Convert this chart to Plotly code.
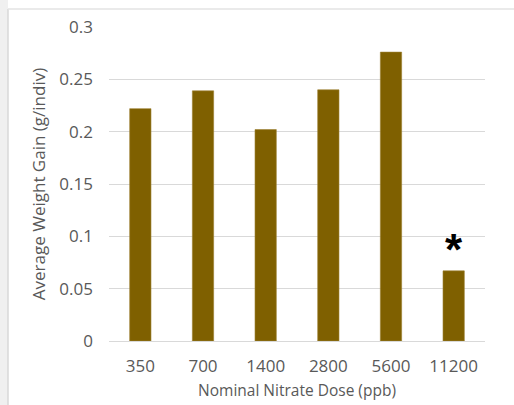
import plotly.graph_objects as go

doses = ["350", "700", "1400", "2800", "5600", "11200"]
weight_gain = [0.222, 0.239, 0.202, 0.240, 0.276, 0.067]
y_ticks = [0, 0.05, 0.1, 0.15, 0.2, 0.25, 0.3]
y_tick_labels = ["0", "0.05", "0.1", "0.15", "0.2", "0.25", "0.3"]
sig_dose = "11200"
sig_mark_y = 0.083

FONT = "Open Sans, Lato, sans-serif"
TXT = "#595959"

fig = go.Figure()
fig.add_trace(go.Bar(
    x=doses, y=weight_gain,
    marker=dict(color="#7F6000", line=dict(color="#9c8030", width=0.6)),
    width=0.34,
))

fig.add_trace(go.Scatter(
    x=[sig_dose], y=[sig_mark_y], mode="text", text=["<b>*</b>"],
    textfont=dict(family="Liberation Sans, Arial", size=44, color="#000000"),
    textposition="middle center", hoverinfo="skip",
))

fig.update_layout(
    width=514, height=405,
    margin=dict(l=109, r=29, t=27, b=64),
    paper_bgcolor="white", plot_bgcolor="white",
    showlegend=False,
    font=dict(family=FONT, size=16, color=TXT),
    xaxis=dict(
        type="category", categoryorder="array", categoryarray=doses,
        range=[-0.5, len(doses) - 0.5], automargin=False,
        showgrid=False, showline=False, ticks="",
        tickfont=dict(size=17, color=TXT), ticklabelstandoff=13,
        title=dict(text="Nominal Nitrate Dose (ppb)", font=dict(size=15.5, color=TXT), standoff=9),
    ),
    yaxis=dict(
        range=[0, 0.3], tickvals=y_ticks, ticktext=y_tick_labels, automargin=False,
        showgrid=True, gridcolor="#d9d9d9", gridwidth=1.3,
        zeroline=True, zerolinecolor="#d9d9d9", zerolinewidth=1.3,
        showline=False, ticks="",
        tickfont=dict(size=17, color=TXT), ticklabelstandoff=15,
        title=dict(text="Average Weight Gain (g/indiv)", font=dict(size=17, color=TXT), standoff=9),
    ),
)

# chart frame (Excel-style border with gray strip on the left)
fig.add_shape(type="rect", xref="paper", yref="paper",
              x0=-0.32, x1=-0.2686, y0=-0.3, y1=1.2,
              fillcolor="#f0f0f0", line=dict(width=0), layer="below")
fig.add_shape(type="line", xref="paper", yref="paper",
              x0=-0.2686, x1=-0.2686, y0=-0.3, y1=1.0573,
              line=dict(color="#d9d9d9", width=1.5))
fig.add_shape(type="line", xref="paper", yref="paper",
              x0=-0.2686, x1=1.2, y0=1.0573, y1=1.0573,
              line=dict(color="#e3e3e3", width=1.5))

fig.write_html("out.html")
